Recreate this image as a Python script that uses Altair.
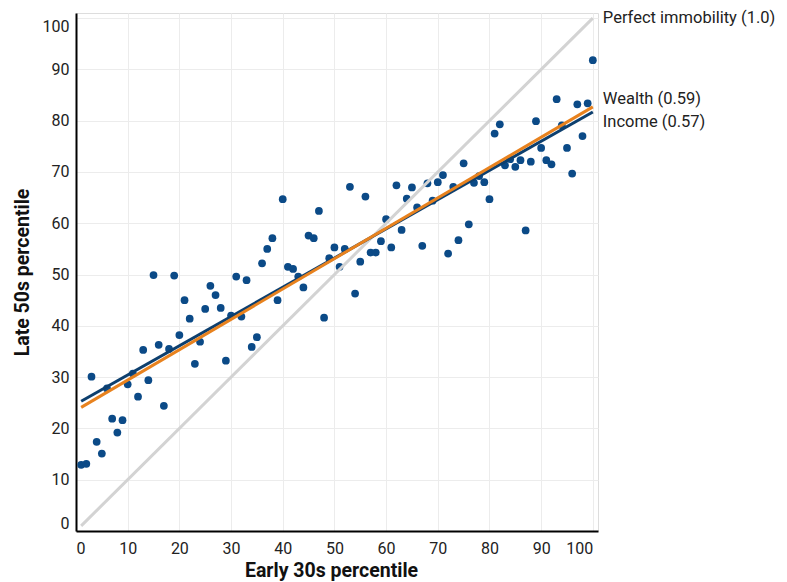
import altair as alt
import pandas as pd

# percentile in early 30s (x) and late 50s (y)
early_pct = list(range(1, 101))
late_pct = [
    12.9, 13.1, 30.1, 17.4, 15.1, 27.8, 21.9, 19.2, 21.6, 28.6,
    30.7, 26.2, 35.3, 29.4, 49.9, 36.3, 24.4, 35.5, 49.8, 38.2,
    45.0, 41.4, 32.6, 36.9, 43.3, 47.8, 46.0, 43.5, 33.2, 42.0,
    49.6, 41.8, 48.9, 35.9, 37.8, 52.2, 55.0, 57.1, 45.0, 64.7,
    51.5, 51.1, 49.6, 47.5, 57.6, 57.1, 62.4, 41.6, 53.2, 55.3,
    51.5, 55.0, 67.1, 46.3, 52.5, 65.2, 54.3, 54.3, 56.5, 60.8,
    55.3, 67.4, 58.7, 64.8, 67.0, 63.1, 55.6, 67.8, 64.4, 68.0,
    69.4, 54.1, 67.1, 56.7, 71.7, 59.8, 67.9, 69.2, 68.0, 64.7,
    77.5, 79.3, 71.3, 72.5, 71.0, 72.3, 58.6, 72.0, 79.9, 74.7,
    72.3, 71.5, 84.2, 79.1, 74.7, 69.7, 83.2, 77.0, 83.4, 91.8,
]

# fitted lines (endpoints)
line_names = ["Perfect immobility (1.0)", "Income (0.57)", "Wealth (0.59)"]
line_x_start = [1, 1, 1]
line_x_end = [100, 100, 100]
line_y_start = [1, 25.3, 24.1]
line_y_end = [100, 81.7, 82.7]
line_colors = ["#d3d3d3", "#0d3f6e", "#e8821e"]

# label texts and their vertical anchor (data units)
label_texts = ["Perfect immobility (1.0)", "Wealth (0.59)", "Income (0.57)"]
label_x = [100, 100, 100]
label_y = [100.1, 84.3, 79.8]

pts = pd.DataFrame({"early": early_pct, "late": late_pct})
rows = []
for n, xs, xe, ys, ye in zip(line_names, line_x_start, line_x_end, line_y_start, line_y_end):
    rows.append({"name": n, "early": xs, "late": ys})
    rows.append({"name": n, "early": xe, "late": ye})
lines = pd.DataFrame(rows)
labels = pd.DataFrame({"text": label_texts, "early": label_x, "late": label_y})

FONT = "Roboto"
xscale = alt.Scale(domain=[0, 101], nice=False, zero=False)
yscale = alt.Scale(domain=[0, 101], nice=False, zero=False)

xaxis = alt.Axis(
    title="Early 30s percentile", values=list(range(0, 101, 10)),
    labelFlush=8, labelFont=FONT, labelFontSize=16, labelColor="#222",
    labelPadding=9, ticks=False, domainColor="#000", domainWidth=2,
    gridColor="#ececec", titleFont=FONT, titleFontSize=19.5, titleFontWeight="bold",
    titleColor="#111", titleX=255, titleY=39, titleAlign="center", titleBaseline="middle",
    titleAnchor="start",
)
yaxis = alt.Axis(
    title="Late 50s percentile", values=list(range(0, 101, 10)),
    labelFlush=8, labelFont=FONT, labelFontSize=16, labelColor="#222",
    labelPadding=7, ticks=False, domainColor="#000", domainWidth=2,
    gridColor="#ececec", titleFont=FONT, titleFontSize=19.5, titleFontWeight="bold",
    titleColor="#111", titleX=-54, titleY=259, titleAlign="center", titleBaseline="middle",
    titleAngle=-90, titleAnchor="start",
)

points = alt.Chart(pts).mark_circle(size=60, opacity=1, color="#0b4a87").encode(
    x=alt.X("early:Q", scale=xscale, axis=xaxis),
    y=alt.Y("late:Q", scale=yscale, axis=yaxis),
)

line_layer = alt.Chart(lines).mark_line(strokeWidth=3, clip=False).encode(
    x=alt.X("early:Q", scale=xscale),
    y=alt.Y("late:Q", scale=yscale),
    color=alt.Color("name:N", scale=alt.Scale(domain=line_names, range=line_colors), legend=None),
    order=alt.Order("name:N"),
    detail="name:N",
)

text_layer = alt.Chart(labels).mark_text(
    align="left", baseline="middle", dx=10, font=FONT, fontSize=16.5, color="#222"
).encode(
    x=alt.X("early:Q", scale=xscale),
    y=alt.Y("late:Q", scale=yscale),
    text="text:N",
)

chart = alt.layer(points, line_layer, text_layer).properties(
    width=522, height=518,
    autosize=alt.AutoSizeParams(type="none"),
    padding={"left": 76, "top": 13, "right": 189, "bottom": 51},
).configure_view(stroke=None).configure(background="white")

chart.save("out.html", embed_options={"renderer": "svg", "actions": False})
